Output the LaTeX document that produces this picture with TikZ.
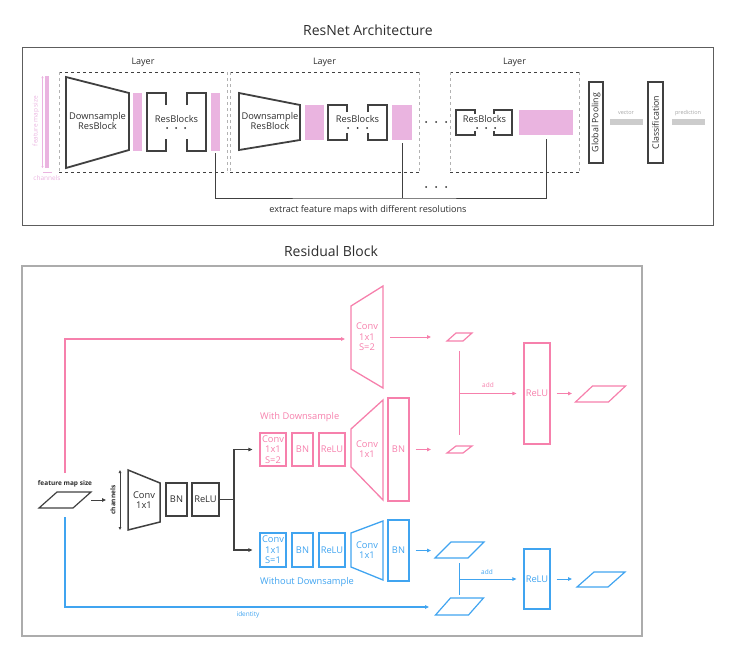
\documentclass[tikz,border=0pt]{standalone}
\usepackage{fontspec}
\setmainfont{Open Sans}
\usetikzlibrary{arrows.meta,positioning}
\definecolor{dgray}{RGB}{64,64,64}
\definecolor{tgray}{RGB}{45,45,45}
\definecolor{fmap}{RGB}{234,180,224}
\definecolor{pinkc}{RGB}{246,128,172}
\definecolor{bluec}{RGB}{64,164,240}
\definecolor{vgray}{RGB}{204,204,204}
\newcommand{\fsz}[2]{\fontsize{#1pt}{#2pt}\selectfont}

\begin{document}
\begin{tikzpicture}[x=1pt,y=-1pt,
  box/.style={draw,line width=1.2pt,inner sep=0pt,align=center,font=\fsz{9.3}{10.5}},
  pbox/.style={box,draw=pinkc,text=pinkc},
  bbox/.style={box,draw=bluec,text=bluec},
  gbox/.style={box,draw=dgray,text=tgray,line width=1.4pt},
  trap/.style={line width=1.8pt,draw=dgray},
  brk/.style={line width=1.6pt,draw=dgray},
  fbar/.style={fill=fmap,inner sep=0pt},
  lbl/.style={text=tgray,font=\fsz{9.3}{10.5},align=center,inner sep=0pt},
  tip/.style={-{Triangle[length=4pt,width=3.5pt]}},
  parr/.style={tip,pinkc,line width=1pt},
  barr/.style={tip,bluec,line width=1pt},
  garr/.style={tip,dgray,line width=1pt},
]
\useasboundingbox (0,0) rectangle (729,653);

% ---------------- ResNet Architecture ----------------
\node[lbl,font=\fsz{14}{16}] (t1) at (368,30) {ResNet Architecture};
\draw[dgray!85,line width=1pt] (22,47) rectangle (713,225);

% layers (dashed)
\foreach \xa/\xb/\n in {59/227/1, 230/419/2, 450/579/3}{
  \draw[dgray,dashed,line width=0.8pt] (\xa,72) -- (\xb,72) (\xa,172) -- (\xb,172);
  \draw[gray!60,dashed,line width=0.8pt] (\xa,72) -- (\xa,172) (\xb,72) -- (\xb,172);
  \node[lbl,font=\fsz{9}{10}] (lay\n) at ({(\xa+\xb)/2},62) {Layer};
}

% feature map size / channels
\node[fbar,minimum width=4,minimum height=92] (fm) at (47,122) {};
\coordinate (fmt) at (42.5,76);
\coordinate (fmb) at (42.5,168);
\draw[fmap,line width=0.6pt,{Triangle[length=2pt,width=2pt]}-{Triangle[length=2pt,width=2pt]}] (fmt) -- (fmb);
\node[text=fmap,font=\fsz{6.5}{7},rotate=90,inner sep=0pt] (fml) at (36,121) {feature map size};
\coordinate (cha) at (43,172);
\coordinate (chb) at (52,172);
\draw[fmap,line width=0.6pt] (cha) -- (chb);
\node[text=fmap,font=\fsz{6.5}{7},inner sep=0pt] (chl) at (47,178) {channels};

% layer 1
\draw[trap] (66,77) -- (129,93) -- (129,150) -- (66,168) -- cycle;
\node[lbl] (ds1) at (97.5,121) {Downsample\\ResBlock};
\node[fbar,minimum width=9,minimum height=58] (b11) at (137.5,122) {};
\node[fbar,minimum width=9,minimum height=58] (b12) at (215.5,122) {};
% layer 2
\draw[trap] (239,93) -- (300,105) -- (300,140) -- (239,150) -- cycle;
\node[lbl] (ds2) at (270,121) {Downsample\\ResBlock};
\node[fbar,minimum width=19,minimum height=35] (b21) at (314.5,122.5) {};
\node[fbar,minimum width=20,minimum height=35] (b22) at (402,122.5) {};
% layer 3
\node[fbar,minimum width=54,minimum height=25] (b3) at (546,122.5) {};

% ResBlocks brackets
\foreach \xa/\xb/\xc/\xd/\ya/\yb/\nt in {147/166/187/206/93/151/12, 328/347/368/387/105/140/7, 456/475/494/512/110/135/4}{
  \draw[brk] (\xb,\ya+\nt) -- (\xb,\ya) -- (\xa,\ya) -- (\xa,\yb) -- (\xb,\yb) -- (\xb,\yb-\nt);
  \draw[brk] (\xc,\ya+\nt) -- (\xc,\ya) -- (\xd,\ya) -- (\xd,\yb) -- (\xc,\yb) -- (\xc,\yb-\nt);
}
\node[lbl] (rb1) at (176.5,119.5) {ResBlocks};
\node[lbl] (rb2) at (357.5,119.5) {ResBlocks};
\node[lbl] (rb3) at (484.5,119.5) {ResBlocks};
\foreach \x in {167,176,185, 348,357.5,367, 477,486,495}
  \fill[tgray] (\x,128) circle (1pt);
\foreach \x in {426,436,446}{
  \fill[tgray] (\x,122) circle (1pt);
  \fill[tgray] (\x,187) circle (1pt);
}

% extracted feature maps
\coordinate (ex) at (368,198);
\draw[dgray,line width=1pt,shorten <=2pt] (b12.south) |- (ex) -| ([yshift=-4pt]b3.south);
\draw[dgray,line width=1pt,shorten <=3pt] (b22.south) -- (b22.south |- ex);
\node[lbl,font=\fsz{9.1}{10}] (exl) at (368,210) {extract feature maps with different resolutions};

% head
\node[gbox,rotate=90,minimum width=81,minimum height=14,font=\fsz{8.8}{9}] (gp) at (596,122.5) {Global Pooling};
\node[fill=vgray,inner sep=0pt,minimum width=33,minimum height=6] (vec) at (626,122) {};
\node[text=gray!70,font=\fsz{5.5}{6},inner sep=0pt] (vecl) at (626,113) {vector};
\node[gbox,rotate=90,minimum width=81,minimum height=15,font=\fsz{8.8}{9}] (cls) at (655.5,122.5) {Classification};
\node[fill=vgray,inner sep=0pt,minimum width=33,minimum height=6] (pred) at (688,122) {};
\node[text=gray!70,font=\fsz{5.5}{6},inner sep=0pt] (predl) at (688,113) {prediction};

% ---------------- Residual Block ----------------
\node[lbl,font=\fsz{14}{16}] (t2) at (331,251) {Residual Block};
\draw[gray!65,line width=1.6pt] (22,266) rectangle (642,636);

% feature maps (parallelograms)
\foreach \cx/\cy/\w/\h/\s/\col in {65/500/34/16/18/dgray, 459.5/337/16/8/9/pinkc, 459.5/449.5/16/7/9/pinkc,
    600.5/394/33/16/17/pinkc, 459.5/550/33/16/16/bluec, 459.5/606.5/33/17/15/bluec, 601/579.5/31/15/17/bluec}
  \draw[\col,line width=1.2pt] (\cx-\w/2-\s/2,\cy+\h/2) -- ++(\w,0) -- ++(\s,-\h) -- ++(-\w,0) -- cycle;
\node[text=tgray,font=\fsz{6.5}{7}\bfseries,inner sep=0pt] (fms) at (65,484) {feature map size};

% stem
\coordinate (inr) at (91,500);
\coordinate (ch1) at (120,470);
\coordinate (ch2) at (120,530);
\draw[dgray,line width=0.9pt,{Triangle[length=3pt,width=2.5pt]}-{Triangle[length=3pt,width=2.5pt]}] (ch1) -- (ch2);
\node[text=tgray,font=\fsz{6.5}{7}\bfseries,rotate=90,inner sep=0pt] (chn) at (113,500) {channels};
\draw[garr] (inr) -- ([xshift=-14pt]ch1 |- inr);
\draw[trap,line width=1.5pt] (128,470) -- (160,483) -- (160,522) -- (128,530) -- cycle;
\node[lbl] (gconv) at (144,500) {Conv\\1x1};
\node[gbox,minimum width=21,minimum height=33] (gbn) at (176.5,499.5) {BN};
\node[gbox,minimum width=27,minimum height=33] (grelu) at (205.5,499.5) {ReLU};
\coordinate (sp) at (234,499.5);
\draw[dgray,line width=1.2pt] (grelu.east) -- (sp);

% with downsample
\node[text=pinkc,font=\fsz{9.3}{10},anchor=west,inner sep=0pt] (wd) at (260,417) {With Downsample};
\node[pbox,minimum width=26,minimum height=33] (pconv1) at (273,449.5) {Conv\\1x1\\S=2};
\node[pbox,minimum width=21,minimum height=33] (pbn1) at (302.5,449.5) {BN};
\node[pbox,minimum width=26,minimum height=33] (prelu1) at (332,449.5) {ReLU};
\draw[pinkc,line width=1.3pt] (351,429) -- (383,400) -- (383,500) -- (351,467) -- cycle;
\node[lbl,text=pinkc] (pconv2) at (367,449) {Conv\\1x1};
\node[pbox,minimum width=21,minimum height=103] (pbn2) at (398.5,449.5) {BN};
\draw[garr,line width=1.2pt] (sp) |- ([xshift=-7pt]pconv1.west);

% downsample shortcut
\coordinate (pin) at (65,473);
\draw[pinkc,line width=1.3pt] (351,306) -- (383,286) -- (383,388) -- (351,369) -- cycle;
\node[lbl,text=pinkc] (pconv3) at (367,337) {Conv\\1x1\\S=2};
\coordinate (pc3l) at (351,339);
\coordinate (pc3r) at (383,337);
\draw[parr,line width=1.3pt] (pin) |- ([xshift=-6pt]pc3l);
\coordinate (pq1in) at (431,337);
\coordinate (pq2in) at (431,449.5);
\draw[parr] ([xshift=7pt]pc3r) -- (pq1in);
\draw[parr,shorten <=6pt] (pbn2.east) -- (pq2in);

% add + relu (pink)
\coordinate (pa1) at (459.5,351);
\coordinate (pa2) at (459.5,435);
\coordinate (padd) at (459.5,393.5);
\draw[pinkc,line width=1pt] (pa1) -- (pa2);
\node[pbox,minimum width=26,minimum height=101] (prelu2) at (537,393.5) {ReLU};
\draw[parr,shorten >=7pt] (padd) -- (prelu2.west);
\node[text=pinkc,font=\fsz{6.5}{7},inner sep=0pt] (padl) at (488,385) {add};
\coordinate (pout) at (572,393.5);
\draw[parr,shorten <=6pt] (prelu2.east) -- (pout);

% without downsample
\node[bbox,minimum width=26,minimum height=34] (bconv1) at (273,550) {Conv\\1x1\\S=1};
\node[bbox,minimum width=21,minimum height=34] (bbn1) at (302.5,550) {BN};
\node[bbox,minimum width=26,minimum height=34] (brelu1) at (332,550) {ReLU};
\draw[bluec,line width=1.3pt] (351,533) -- (383,521) -- (383,580) -- (351,567) -- cycle;
\node[lbl,text=bluec] (bconv2) at (367,550) {Conv\\1x1};
\node[bbox,minimum width=21,minimum height=61] (bbn2) at (398.5,550.5) {BN};
\node[text=bluec,font=\fsz{9.3}{10},anchor=west,inner sep=0pt] (wod) at (260,582) {Without Downsample};
\draw[garr,line width=1.2pt] (sp) |- ([xshift=-7pt]bconv1.west);
\coordinate (bq1in) at (431,550.5);
\draw[barr,shorten <=6pt] (bbn2.east) -- (bq1in);

% identity shortcut
\coordinate (bin) at (65,517);
\coordinate (bq2in) at (429,607);
\draw[barr,line width=1.3pt] (bin) |- (bq2in);
\node[text=bluec,font=\fsz{6.5}{7},inner sep=0pt] (idl) at (248,615) {identity};

% add + relu (blue)
\coordinate (ba1) at (459.5,563);
\coordinate (ba2) at (459.5,595);
\coordinate (badd) at (459.5,579);
\draw[bluec,line width=1pt] (ba1) -- (ba2);
\node[bbox,minimum width=26,minimum height=60] (brelu2) at (537,579) {ReLU};
\draw[barr,shorten >=7pt] (badd) -- (brelu2.west);
\node[text=bluec,font=\fsz{6.5}{7},inner sep=0pt] (badl) at (487,572) {add};
\coordinate (bout) at (572,579);
\draw[barr,shorten <=6pt] (brelu2.east) -- (bout);
\end{tikzpicture}
\end{document}
